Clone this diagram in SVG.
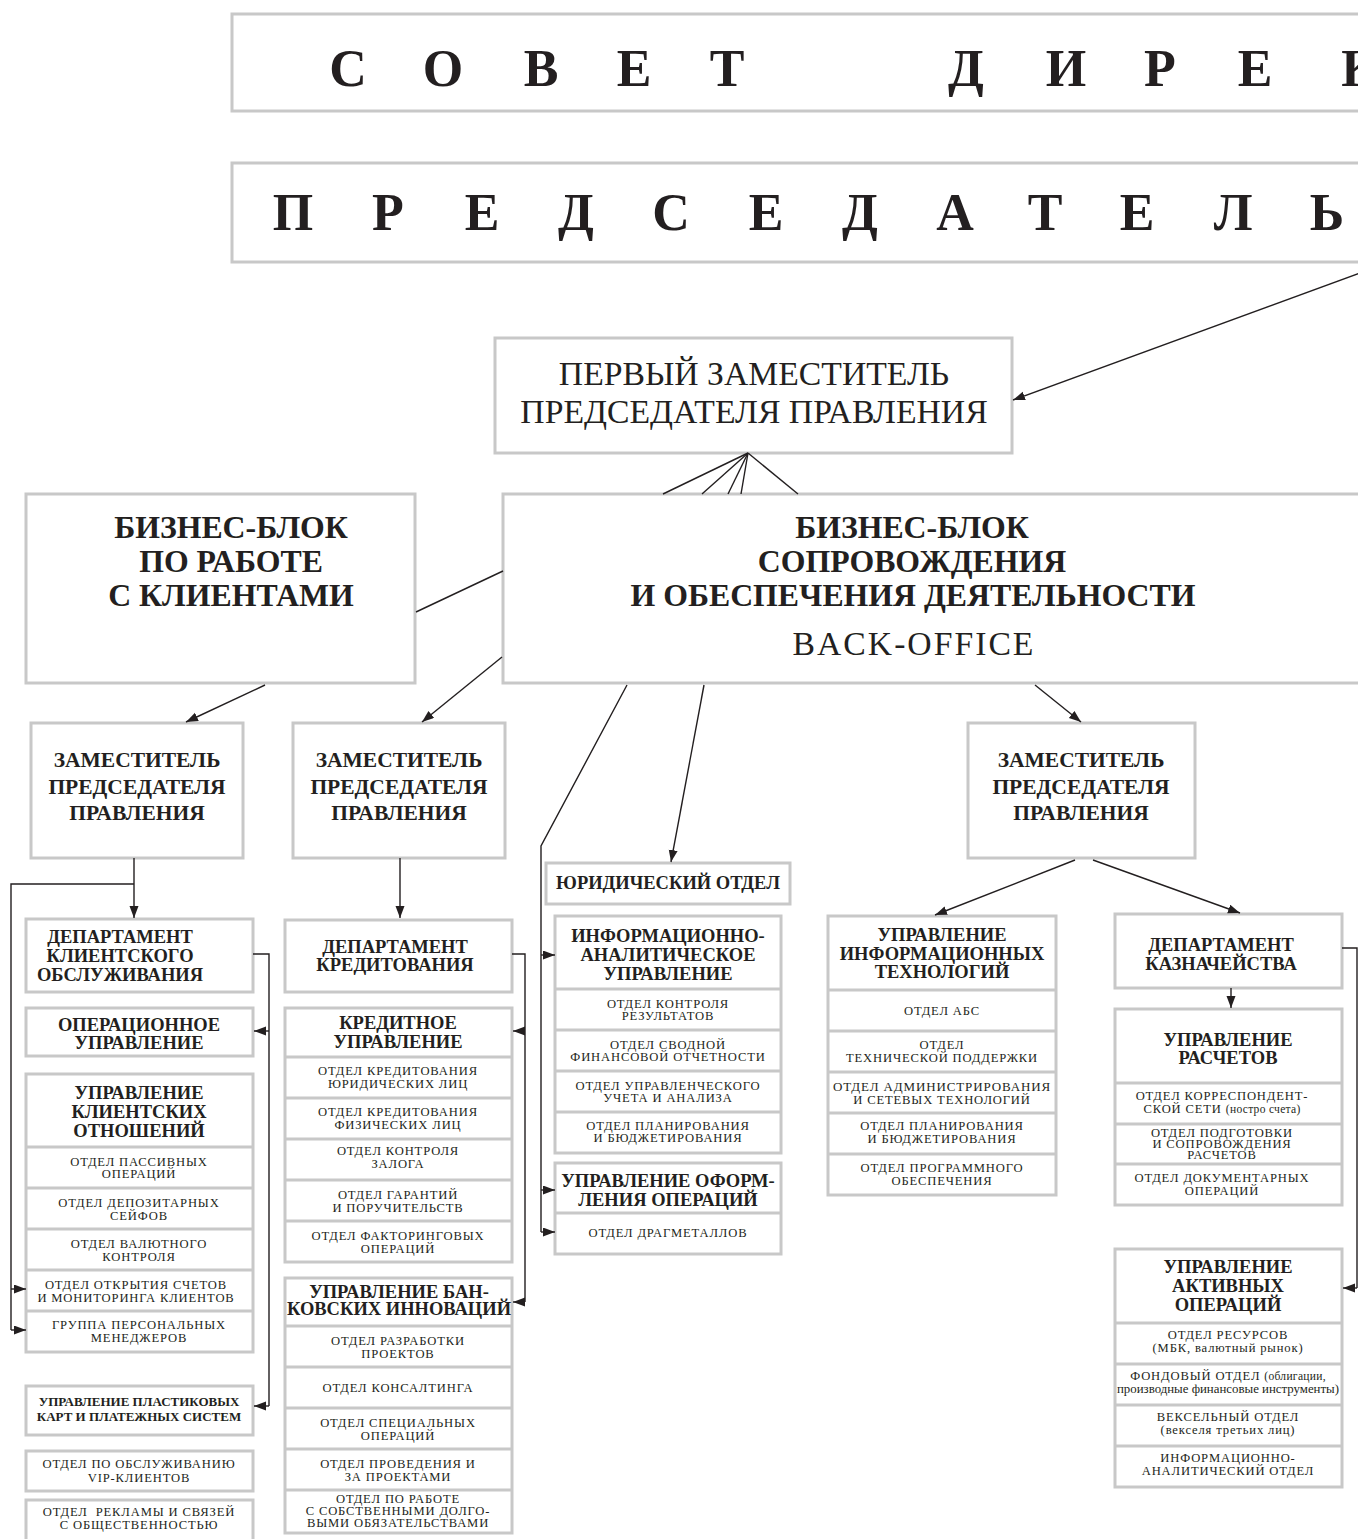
<svg xmlns="http://www.w3.org/2000/svg" width="1358" height="1539" viewBox="0 0 1358 1539">
<style>
text{font-family:"Liberation Serif","Times New Roman",serif;fill:#231f20;text-anchor:middle}
.box{fill:#fff;stroke:#c8c8c8;stroke-width:3}
.div{stroke:#c8c8c8;stroke-width:3}
.conn line,.conn polyline{stroke:#231f20;stroke-width:1.4;fill:none}
.giant{font-size:52px;font-weight:bold}
.big{font-size:33.7px}
.blk{font-size:31.8px;font-weight:bold}
.zam{font-size:21.5px;font-weight:bold}
.hd{font-size:18.5px;font-weight:bold}
.hs{font-size:13px;font-weight:bold}
.sb{font-size:12.6px;letter-spacing:0.85px}
.sm{font-size:12px}
</style>
<defs>
<marker id="ah" markerUnits="userSpaceOnUse" markerWidth="13" markerHeight="10" refX="12" refY="4.5" orient="auto">
<path d="M0,0 L12,4.5 L0,9 Z" fill="#231f20"/>
</marker>
</defs>
<rect width="1358" height="1539" fill="#fff"/>

<g id="sovet">
<rect class="box" x="232" y="14" width="1140" height="97"/>
<text class="giant" y="86"><tspan x="348">С</tspan><tspan x="443">О</tspan><tspan x="541">В</tspan><tspan x="634">Е</tspan><tspan x="727">Т</tspan><tspan x="966">Д</tspan><tspan x="1066">И</tspan><tspan x="1160">Р</tspan><tspan x="1255">Е</tspan><tspan x="1360">К</tspan></text>
</g>

<g id="predsedatel">
<rect class="box" x="232" y="163" width="1140" height="99"/>
<text class="giant" y="230"><tspan x="293">П</tspan><tspan x="388">Р</tspan><tspan x="482">Е</tspan><tspan x="576">Д</tspan><tspan x="671">С</tspan><tspan x="766">Е</tspan><tspan x="860">Д</tspan><tspan x="955">А</tspan><tspan x="1045">Т</tspan><tspan x="1137">Е</tspan><tspan x="1233">Л</tspan><tspan x="1327">Ь</tspan></text>
</g>

<g id="perviy-zam">
<rect class="box" x="495" y="338" width="517" height="115"/>
<text class="big" x="754" y="385">ПЕРВЫЙ ЗАМЕСТИТЕЛЬ</text>
<text class="big" x="754" y="423">ПРЕДСЕДАТЕЛЯ ПРАВЛЕНИЯ</text>
</g>

<g id="biznes-klienty">
<rect class="box" x="26" y="494" width="389" height="189"/>
<text class="blk" x="231" y="538">БИЗНЕС-БЛОК</text>
<text class="blk" x="231" y="572">ПО РАБОТЕ</text>
<text class="blk" x="231" y="606">С КЛИЕНТАМИ</text>
</g>

<g id="biznes-back">
<rect class="box" x="503" y="494" width="870" height="189"/>
<text class="blk" x="912" y="538">БИЗНЕС-БЛОК</text>
<text class="blk" x="912" y="572">СОПРОВОЖДЕНИЯ</text>
<text class="blk" x="913" y="606">И ОБЕСПЕЧЕНИЯ ДЕЯТЕЛЬНОСТИ</text>
<text class="big" x="914" y="655" letter-spacing="2">BACK-OFFICE</text>
</g>

<g id="zam-1">
<rect class="box" x="31" y="723" width="212" height="135"/>
<text class="zam" x="137" y="767">ЗАМЕСТИТЕЛЬ</text>
<text class="zam" x="137" y="794">ПРЕДСЕДАТЕЛЯ</text>
<text class="zam" x="137" y="820">ПРАВЛЕНИЯ</text>
</g>
<g id="zam-2">
<rect class="box" x="293" y="723" width="212" height="135"/>
<text class="zam" x="399" y="767">ЗАМЕСТИТЕЛЬ</text>
<text class="zam" x="399" y="794">ПРЕДСЕДАТЕЛЯ</text>
<text class="zam" x="399" y="820">ПРАВЛЕНИЯ</text>
</g>
<g id="zam-3">
<rect class="box" x="968" y="723" width="227" height="135"/>
<text class="zam" x="1081" y="767">ЗАМЕСТИТЕЛЬ</text>
<text class="zam" x="1081" y="794">ПРЕДСЕДАТЕЛЯ</text>
<text class="zam" x="1081" y="820">ПРАВЛЕНИЯ</text>
</g>

<!-- Column 1 -->
<g id="dep-klient">
<rect class="box" x="26" y="919" width="227" height="73"/>
<text class="hd" x="120" y="943">ДЕПАРТАМЕНТ</text>
<text class="hd" x="120" y="962">КЛИЕНТСКОГО</text>
<text class="hd" x="120" y="981">ОБСЛУЖИВАНИЯ</text>
</g>
<g id="oper-upr">
<rect class="box" x="26" y="1008" width="227" height="48"/>
<text class="hd" x="139" y="1031">ОПЕРАЦИОННОЕ</text>
<text class="hd" x="139" y="1049">УПРАВЛЕНИЕ</text>
</g>
<g id="upr-klient">
<rect class="box" x="26" y="1074" width="227" height="278"/>
<line class="div" x1="26" y1="1147" x2="253" y2="1147"/>
<line class="div" x1="26" y1="1188" x2="253" y2="1188"/>
<line class="div" x1="26" y1="1229" x2="253" y2="1229"/>
<line class="div" x1="26" y1="1270" x2="253" y2="1270"/>
<line class="div" x1="26" y1="1311" x2="253" y2="1311"/>
<text class="hd" x="139" y="1099">УПРАВЛЕНИЕ</text>
<text class="hd" x="139" y="1118">КЛИЕНТСКИХ</text>
<text class="hd" x="139" y="1137">ОТНОШЕНИЙ</text>
<text class="sb" x="139" y="1166">ОТДЕЛ ПАССИВНЫХ</text>
<text class="sb" x="139" y="1178">ОПЕРАЦИЙ</text>
<text class="sb" x="139" y="1207">ОТДЕЛ ДЕПОЗИТАРНЫХ</text>
<text class="sb" x="139" y="1220">СЕЙФОВ</text>
<text class="sb" x="139" y="1248">ОТДЕЛ ВАЛЮТНОГО</text>
<text class="sb" x="139" y="1261">КОНТРОЛЯ</text>
<text class="sb" x="136" y="1289">ОТДЕЛ ОТКРЫТИЯ СЧЕТОВ</text>
<text class="sb" x="136" y="1302">И МОНИТОРИНГА КЛИЕНТОВ</text>
<text class="sb" x="139" y="1329">ГРУППА ПЕРСОНАЛЬНЫХ</text>
<text class="sb" x="139" y="1342">МЕНЕДЖЕРОВ</text>
</g>
<g id="upr-plast">
<rect class="box" x="26" y="1386" width="227" height="49"/>
<text class="hs" x="139" y="1406">УПРАВЛЕНИЕ ПЛАСТИКОВЫХ</text>
<text class="hs" x="139" y="1421">КАРТ И ПЛАТЕЖНЫХ СИСТЕМ</text>
</g>
<g id="otd-vip">
<rect class="box" x="26" y="1451" width="227" height="40"/>
<text class="sb" x="139" y="1468">ОТДЕЛ ПО ОБСЛУЖИВАНИЮ</text>
<text class="sb" x="139" y="1482">VIP-КЛИЕНТОВ</text>
</g>
<g id="otd-reklama">
<rect class="box" x="26" y="1500" width="227" height="42"/>
<text class="sb" x="139" y="1516" xml:space="preserve">ОТДЕЛ  РЕКЛАМЫ И СВЯЗЕЙ</text>
<text class="sb" x="139" y="1529">С ОБЩЕСТВЕННОСТЬЮ</text>
</g>

<!-- Column 2 -->
<g id="dep-kredit">
<rect class="box" x="285" y="920" width="227" height="72"/>
<text class="hd" x="395" y="953">ДЕПАРТАМЕНТ</text>
<text class="hd" x="395" y="971">КРЕДИТОВАНИЯ</text>
</g>
<g id="kredit-upr">
<rect class="box" x="285" y="1008" width="227" height="254"/>
<line class="div" x1="285" y1="1057" x2="512" y2="1057"/>
<line class="div" x1="285" y1="1098" x2="512" y2="1098"/>
<line class="div" x1="285" y1="1139" x2="512" y2="1139"/>
<line class="div" x1="285" y1="1180" x2="512" y2="1180"/>
<line class="div" x1="285" y1="1221" x2="512" y2="1221"/>
<text class="hd" x="398" y="1029">КРЕДИТНОЕ</text>
<text class="hd" x="398" y="1048">УПРАВЛЕНИЕ</text>
<text class="sb" x="398" y="1075">ОТДЕЛ КРЕДИТОВАНИЯ</text>
<text class="sb" x="398" y="1088">ЮРИДИЧЕСКИХ ЛИЦ</text>
<text class="sb" x="398" y="1116">ОТДЕЛ КРЕДИТОВАНИЯ</text>
<text class="sb" x="398" y="1129">ФИЗИЧЕСКИХ ЛИЦ</text>
<text class="sb" x="398" y="1155">ОТДЕЛ КОНТРОЛЯ</text>
<text class="sb" x="398" y="1168">ЗАЛОГА</text>
<text class="sb" x="398" y="1199">ОТДЕЛ ГАРАНТИЙ</text>
<text class="sb" x="398" y="1212">И ПОРУЧИТЕЛЬСТВ</text>
<text class="sb" x="398" y="1240">ОТДЕЛ ФАКТОРИНГОВЫХ</text>
<text class="sb" x="398" y="1253">ОПЕРАЦИЙ</text>
</g>
<g id="upr-innov">
<rect class="box" x="285" y="1278" width="227" height="255"/>
<line class="div" x1="285" y1="1326" x2="512" y2="1326"/>
<line class="div" x1="285" y1="1367" x2="512" y2="1367"/>
<line class="div" x1="285" y1="1408" x2="512" y2="1408"/>
<line class="div" x1="285" y1="1449" x2="512" y2="1449"/>
<line class="div" x1="285" y1="1490" x2="512" y2="1490"/>
<text class="hd" x="399" y="1298" font-size="17.5">УПРАВЛЕНИЕ БАН-</text>
<text class="hd" x="399" y="1315" font-size="17.5">КОВСКИХ ИННОВАЦИЙ</text>
<text class="sb" x="398" y="1345">ОТДЕЛ РАЗРАБОТКИ</text>
<text class="sb" x="398" y="1358">ПРОЕКТОВ</text>
<text class="sb" x="398" y="1392">ОТДЕЛ КОНСАЛТИНГА</text>
<text class="sb" x="398" y="1427">ОТДЕЛ СПЕЦИАЛЬНЫХ</text>
<text class="sb" x="398" y="1440">ОПЕРАЦИЙ</text>
<text class="sb" x="398" y="1468">ОТДЕЛ ПРОВЕДЕНИЯ И</text>
<text class="sb" x="398" y="1481">ЗА ПРОЕКТАМИ</text>
<text class="sb" x="398" y="1503" font-size="12" letter-spacing="0.8">ОТДЕЛ ПО РАБОТЕ</text>
<text class="sb" x="398" y="1515" font-size="12" letter-spacing="0.8">С СОБСТВЕННЫМИ ДОЛГО-</text>
<text class="sb" x="398" y="1527" font-size="12" letter-spacing="0.8">ВЫМИ ОБЯЗАТЕЛЬСТВАМИ</text>
</g>

<!-- Column 3 -->
<g id="yurid">
<rect class="box" x="546" y="863" width="244" height="41"/>
<text class="hd" x="668" y="889">ЮРИДИЧЕСКИЙ ОТДЕЛ</text>
</g>
<g id="info-anal">
<rect class="box" x="555" y="916" width="226" height="237"/>
<line class="div" x1="555" y1="989" x2="781" y2="989"/>
<line class="div" x1="555" y1="1030" x2="781" y2="1030"/>
<line class="div" x1="555" y1="1071" x2="781" y2="1071"/>
<line class="div" x1="555" y1="1112" x2="781" y2="1112"/>
<text class="hd" x="668" y="942">ИНФОРМАЦИОННО-</text>
<text class="hd" x="668" y="961">АНАЛИТИЧЕСКОЕ</text>
<text class="hd" x="668" y="980">УПРАВЛЕНИЕ</text>
<text class="sb" x="668" y="1008">ОТДЕЛ КОНТРОЛЯ</text>
<text class="sb" x="668" y="1020">РЕЗУЛЬТАТОВ</text>
<text class="sb" x="668" y="1049">ОТДЕЛ СВОДНОЙ</text>
<text class="sb" x="668" y="1061">ФИНАНСОВОЙ ОТЧЕТНОСТИ</text>
<text class="sb" x="668" y="1090">ОТДЕЛ УПРАВЛЕНЧЕСКОГО</text>
<text class="sb" x="668" y="1102">УЧЕТА И АНАЛИЗА</text>
<text class="sb" x="668" y="1130">ОТДЕЛ ПЛАНИРОВАНИЯ</text>
<text class="sb" x="668" y="1142">И БЮДЖЕТИРОВАНИЯ</text>
</g>
<g id="upr-oform">
<rect class="box" x="555" y="1163" width="226" height="91"/>
<line class="div" x1="555" y1="1213" x2="781" y2="1213"/>
<text class="hd" x="668" y="1187" font-size="20">УПРАВЛЕНИЕ ОФОРМ-</text>
<text class="hd" x="668" y="1206" font-size="20">ЛЕНИЯ ОПЕРАЦИЙ</text>
<text class="sb" x="668" y="1237">ОТДЕЛ ДРАГМЕТАЛЛОВ</text>
</g>

<!-- Column 4 -->
<g id="upr-it">
<rect class="box" x="828" y="916" width="228" height="279"/>
<line class="div" x1="828" y1="990" x2="1056" y2="990"/>
<line class="div" x1="828" y1="1031" x2="1056" y2="1031"/>
<line class="div" x1="828" y1="1072" x2="1056" y2="1072"/>
<line class="div" x1="828" y1="1113" x2="1056" y2="1113"/>
<line class="div" x1="828" y1="1154" x2="1056" y2="1154"/>
<text class="hd" x="942" y="941">УПРАВЛЕНИЕ</text>
<text class="hd" x="942" y="960">ИНФОРМАЦИОННЫХ</text>
<text class="hd" x="942" y="978">ТЕХНОЛОГИЙ</text>
<text class="sb" x="942" y="1015">ОТДЕЛ АБС</text>
<text class="sb" x="942" y="1049">ОТДЕЛ</text>
<text class="sb" x="942" y="1062">ТЕХНИЧЕСКОЙ ПОДДЕРЖКИ</text>
<text class="sb" x="942" y="1091" textLength="218" lengthAdjust="spacingAndGlyphs">ОТДЕЛ АДМИНИСТРИРОВАНИЯ</text>
<text class="sb" x="942" y="1104">И СЕТЕВЫХ ТЕХНОЛОГИЙ</text>
<text class="sb" x="942" y="1130">ОТДЕЛ ПЛАНИРОВАНИЯ</text>
<text class="sb" x="942" y="1143">И БЮДЖЕТИРОВАНИЯ</text>
<text class="sb" x="942" y="1172">ОТДЕЛ ПРОГРАММНОГО</text>
<text class="sb" x="942" y="1185">ОБЕСПЕЧЕНИЯ</text>
</g>

<!-- Column 5 -->
<g id="dep-kazna">
<rect class="box" x="1115" y="914" width="227" height="74"/>
<text class="hd" x="1221" y="951">ДЕПАРТАМЕНТ</text>
<text class="hd" x="1221" y="970">КАЗНАЧЕЙСТВА</text>
</g>
<g id="upr-raschet">
<rect class="box" x="1115" y="1009" width="227" height="196"/>
<line class="div" x1="1115" y1="1083" x2="1342" y2="1083"/>
<line class="div" x1="1115" y1="1124" x2="1342" y2="1124"/>
<line class="div" x1="1115" y1="1164" x2="1342" y2="1164"/>
<text class="hd" x="1228" y="1046">УПРАВЛЕНИЕ</text>
<text class="hd" x="1228" y="1064">РАСЧЕТОВ</text>
<text class="sb" x="1222" y="1100">ОТДЕЛ КОРРЕСПОНДЕНТ-</text>
<text class="sb" x="1222" y="1113">СКОЙ СЕТИ <tspan font-size="11.5" letter-spacing="0.3">(ностро счета)</tspan></text>
<text class="sb" x="1222" y="1137" font-size="11.2" letter-spacing="1">ОТДЕЛ ПОДГОТОВКИ</text>
<text class="sb" x="1222" y="1148" font-size="11.2" letter-spacing="1">И СОПРОВОЖДЕНИЯ</text>
<text class="sb" x="1222" y="1159" font-size="11.2" letter-spacing="1">РАСЧЕТОВ</text>
<text class="sb" x="1222" y="1182">ОТДЕЛ ДОКУМЕНТАРНЫХ</text>
<text class="sb" x="1222" y="1195">ОПЕРАЦИЙ</text>
</g>
<g id="upr-aktiv">
<rect class="box" x="1115" y="1249" width="227" height="238"/>
<line class="div" x1="1115" y1="1323" x2="1342" y2="1323"/>
<line class="div" x1="1115" y1="1364" x2="1342" y2="1364"/>
<line class="div" x1="1115" y1="1405" x2="1342" y2="1405"/>
<line class="div" x1="1115" y1="1446" x2="1342" y2="1446"/>
<text class="hd" x="1228" y="1273">УПРАВЛЕНИЕ</text>
<text class="hd" x="1228" y="1292">АКТИВНЫХ</text>
<text class="hd" x="1228" y="1311">ОПЕРАЦИЙ</text>
<text class="sb" x="1228" y="1339">ОТДЕЛ РЕСУРСОВ</text>
<text class="sb" x="1228" y="1352" letter-spacing="0.5">(МБК, валютный рынок)</text>
<text class="sb" x="1228" y="1380">ФОНДОВЫЙ ОТДЕЛ <tspan font-size="11.5" letter-spacing="0.3">(облигации,</tspan></text>
<text class="sm" x="1228" y="1393" textLength="222" lengthAdjust="spacingAndGlyphs">производные финансовые инструменты)</text>
<text class="sb" x="1228" y="1421">ВЕКСЕЛЬНЫЙ ОТДЕЛ</text>
<text class="sb" x="1228" y="1434" letter-spacing="0.5">(векселя третьих лиц)</text>
<text class="sb" x="1228" y="1462">ИНФОРМАЦИОННО-</text>
<text class="sb" x="1228" y="1475">АНАЛИТИЧЕСКИЙ ОТДЕЛ</text>
</g>

<g id="connectors" class="conn">
<line x1="1360" y1="273" x2="1013" y2="400" marker-end="url(#ah)"/>
<line x1="748" y1="453" x2="663" y2="494"/>
<line x1="748" y1="453" x2="702" y2="494"/>
<line x1="748" y1="453" x2="728" y2="494"/>
<line x1="748" y1="453" x2="741" y2="494"/>
<line x1="748" y1="453" x2="798" y2="494"/>
<line x1="503" y1="571" x2="416" y2="612"/>
<line x1="265" y1="685" x2="186" y2="722" marker-end="url(#ah)"/>
<line x1="502" y1="657" x2="422" y2="722" marker-end="url(#ah)"/>
<line x1="1035" y1="685" x2="1081" y2="722" marker-end="url(#ah)"/>
<polyline points="627,685 541,846 541,1232"/>
<line x1="541" y1="955" x2="555" y2="955" marker-end="url(#ah)"/>
<line x1="541" y1="1190" x2="555" y2="1190" marker-end="url(#ah)"/>
<line x1="541" y1="1232" x2="555" y2="1232" marker-end="url(#ah)"/>
<line x1="704" y1="685" x2="671" y2="862" marker-end="url(#ah)"/>
<line x1="1075" y1="860" x2="935" y2="915" marker-end="url(#ah)"/>
<line x1="1093" y1="860" x2="1240" y2="913" marker-end="url(#ah)"/>
<line x1="134" y1="858" x2="134" y2="918" marker-end="url(#ah)"/>
<polyline points="134,884 11,884 11,1330"/>
<line x1="11" y1="1289" x2="26" y2="1289" marker-end="url(#ah)"/>
<line x1="11" y1="1330" x2="26" y2="1330" marker-end="url(#ah)"/>
<polyline points="253,954 269,954 269,1406"/>
<line x1="269" y1="1031" x2="254" y2="1031" marker-end="url(#ah)"/>
<line x1="269" y1="1406" x2="254" y2="1406" marker-end="url(#ah)"/>
<line x1="400" y1="858" x2="400" y2="918" marker-end="url(#ah)"/>
<polyline points="512,954 525,954 525,1302"/>
<line x1="525" y1="1031" x2="513" y2="1031" marker-end="url(#ah)"/>
<line x1="525" y1="1302" x2="513" y2="1302" marker-end="url(#ah)"/>
<line x1="1231" y1="988" x2="1231" y2="1008" marker-end="url(#ah)"/>
<polyline points="1342,948 1357,948 1357,1288"/>
<line x1="1357" y1="1288" x2="1343" y2="1288" marker-end="url(#ah)"/>
</g>
</svg>
